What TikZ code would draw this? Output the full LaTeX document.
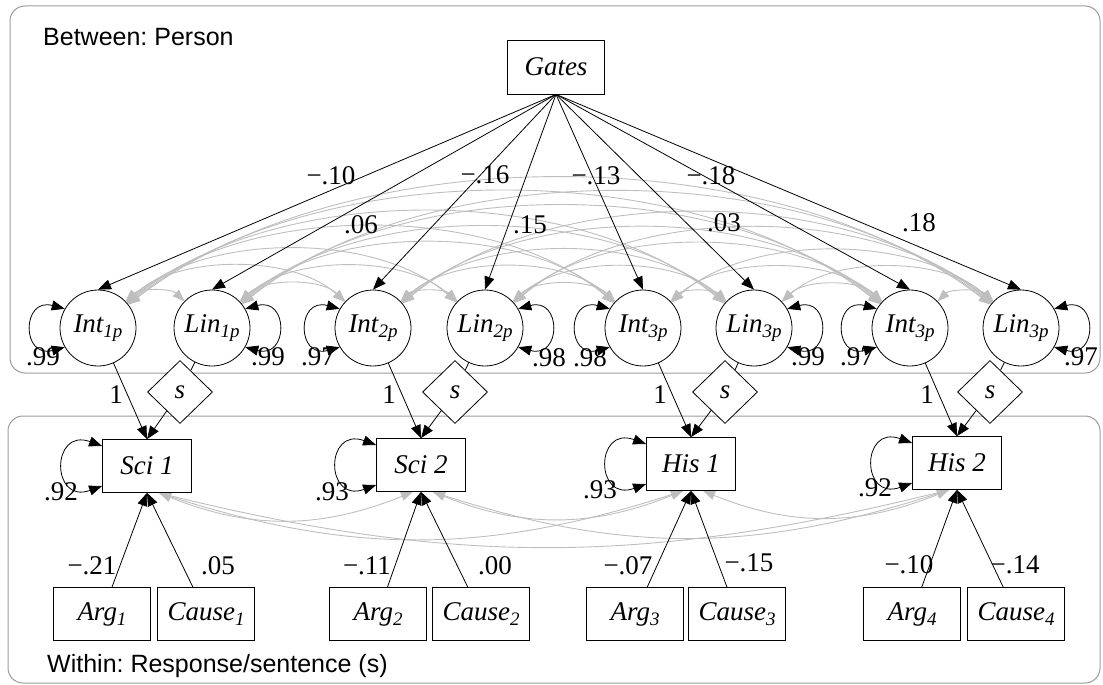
\documentclass[tikz,border=0pt]{standalone}
\usepackage{fontspec}
\setmainfont{Liberation Serif}
\setsansfont{Liberation Sans}
\usetikzlibrary{shapes.geometric,arrows.meta}
\pgfdeclarelayer{background}
\pgfsetlayers{background,main}
\definecolor{covgray}{RGB}{190,190,190}
\definecolor{panelgray}{RGB}{155,155,155}
\frenchspacing
\newcommand{\nfont}{\fontsize{27}{31}\selectfont}
\newcommand{\mysb}[1]{\raisebox{-5pt}{\fontsize{19}{19}\selectfont #1}}
\begin{document}
\begin{tikzpicture}[x=1pt,y=1pt,
  lat/.style={circle, draw, line width=0.8pt, fill=white, minimum size=76pt, inner sep=0pt, font=\nfont\itshape},
  obs/.style={rectangle, draw, line width=0.8pt, fill=white, minimum width=89pt, minimum height=53pt, inner sep=0pt, font=\nfont\itshape},
  pred/.style={obs, minimum width=97pt},
  dia/.style={diamond, draw, line width=0.8pt, fill=white, minimum width=65pt, minimum height=63pt, inner sep=0pt, font=\nfont\itshape},
  coef/.style={font=\nfont, inner sep=0pt},
  reg/.style={draw, line width=0.8pt, -{Triangle[length=13pt,width=10pt]}},
  plainline/.style={draw, line width=0.8pt},
  cov/.style={draw=covgray, line width=0.9pt, {Triangle[length=12pt,width=9pt]}-{Triangle[length=12pt,width=9pt]}},
  selfloop/.style={draw, line width=0.8pt, {Triangle[length=13pt,width=10pt]}-{Triangle[length=13pt,width=10pt]}},
  panel/.style={draw=panelgray, line width=1pt, rounded corners=15pt},
  paneltext/.style={anchor=base west, inner sep=0pt, font=\sffamily\fontsize{25}{28}\selectfont\frenchspacing}
]
\useasboundingbox (0,0) rectangle (1103,-685);
\begin{pgfonlayer}{background}
  \draw[panel] (10,-6) rectangle (1100,-373);
  \draw[panel] (8,-416) rectangle (1100,-683);
\end{pgfonlayer}
\node[paneltext] (tb) at (43,-46) {Between: Person};
\node[paneltext] (tw) at (47,-672) {Within: Response/sentence (s)};

% Gates
\node[obs, minimum width=97pt, minimum height=54pt] (G) at (556,-67) {Gates};

% latent factors
\node[lat] (I1) at (98,-328) {Int\mysb{1p}};
\node[lat] (L1) at (212,-328) {Lin\mysb{1p}};
\node[lat] (I2) at (373,-328) {Int\mysb{2p}};
\node[lat] (L2) at (485,-328) {Lin\mysb{2p}};
\node[lat] (I3) at (643,-328) {Int\mysb{3p}};
\node[lat] (L3) at (754,-328) {Lin\mysb{3p}};
\node[lat] (I4) at (910,-328) {Int\mysb{3p}};
\node[lat] (L4) at (1021,-328) {Lin\mysb{3p}};

% diamonds
\node[dia] (D1) at (180,-392) {s};
\node[dia] (D2) at (455,-392) {s};
\node[dia] (D3) at (725,-392) {s};
\node[dia] (D4) at (990,-392) {s};

% outcomes
\node[obs] (S1) at (147,-466) {Sci 1};
\node[obs] (S2) at (421,-465) {Sci 2};
\node[obs] (H1) at (691,-464) {His 1};
\node[obs] (H2) at (957,-463) {His 2};

% predictors
\node[pred] (A1) at (102,-614) {Arg\mysb{1}};
\node[pred] (C1) at (206,-614) {Cause\mysb{1}};
\node[pred] (A2) at (378,-614) {Arg\mysb{2}};
\node[pred] (C2) at (481,-614) {Cause\mysb{2}};
\node[pred] (A3) at (635,-614) {Arg\mysb{3}};
\node[pred] (C3) at (737,-614) {Cause\mysb{3}};
\node[pred] (A4) at (912,-614) {Arg\mysb{4}};
\node[pred] (C4) at (1016,-614) {Cause\mysb{4}};

% covariances among latent factors
\def\latlist{I1/98,L1/212,I2/373,L2/485,I3/643,L3/754,I4/910,L4/1021}
\begin{pgfonlayer}{background}
\foreach \a/\xa [count=\i] in \latlist {
  \foreach \b/\xb [count=\j] in \latlist {
    \ifnum\j>\i
      \pgfmathsetmacro\ang{45-0.008*(\xb-\xa)}
      \draw[cov] (\a) to[bend left=\ang,looseness=0.82] (\b);
    \fi
  }
}
\def\obslist{S1/147,S2/421,H1/691,H2/957}
\foreach \a/\xa [count=\i] in \obslist {
  \foreach \b/\xb [count=\j] in \obslist {
    \ifnum\j>\i
      \pgfmathsetmacro\ango{-(26-0.015*(\xb-\xa))}
      \pgfmathsetmacro\angi{180+26-0.015*(\xb-\xa)}
      \draw[cov] ([xshift=12pt]\a.south) to[out=\ango,in=\angi,looseness=1] ([xshift=-8pt]\b.south);
    \fi
  }
}
\end{pgfonlayer}

% Gates regressions
\foreach \n in {I1,L1,I2,L2,I3,L3,I4,L4}
  \draw[reg] (G.south) -- (\n.north);

% latent -> outcomes
\foreach \ii/\ll/\dd/\ss in {I1/L1/D1/S1,I2/L2/D2/S2,I3/L3/D3/H1,I4/L4/D4/H2}{
  \draw[reg] (\ii) -- (\ss.north);
  \draw[plainline] (\ll) -- (\dd);
  \draw[reg] (\dd) -- (\ss.north);
}

% predictors -> outcomes
\foreach \aa/\cc/\ss in {A1/C1/S1,A2/C2/S2,A3/C3/H1,A4/C4/H2}{
  \draw[reg] (\aa) -- (\ss.south);
  \draw[reg] (\cc) -- (\ss.south);
}

% self loops latent
\foreach \n in {I1,I2,I3,I4}
  \draw[selfloop] (\n.150) to[out=165,in=195,looseness=3] (\n.210);
\foreach \n in {L1,L2,L3,L4}
  \draw[selfloop] (\n.30) to[out=15,in=-15,looseness=3] (\n.-30);
% self loops outcomes
\foreach \n in {S1,S2,H1,H2}
  \draw[selfloop] ([yshift=20pt]\n.west) to[out=160,in=200,looseness=3.5] ([yshift=-20pt]\n.west);

% coefficient labels: Gates
\node[coef] (g1) at (331,-176) {−.10};
\node[coef] (g2) at (361,-225) {.06};
\node[coef] (g3) at (485,-175) {−.16};
\node[coef] (g4) at (530,-225) {.15};
\node[coef] (g5) at (596,-176) {−.13};
\node[coef] (g6) at (724,-223) {.03};
\node[coef] (g7) at (711,-176) {−.18};
\node[coef] (g8) at (919,-223) {.18};

% residual variances latent
\node[coef] (v1) at (43,-357) {.99};
\node[coef] (v2) at (268,-357) {.99};
\node[coef] (v3) at (318,-357) {.97};
\node[coef] (v4) at (549,-358) {.98};
\node[coef] (v5) at (590,-358) {.98};
\node[coef] (v6) at (808,-357) {.99};
\node[coef] (v7) at (857,-357) {.97};
\node[coef] (v8) at (1081,-357) {.97};

% loadings
\node[coef] (o1) at (116,-395) {1};
\node[coef] (o2) at (389,-395) {1};
\node[coef] (o3) at (660,-395) {1};
\node[coef] (o4) at (927,-395) {1};

% residual variances outcomes
\node[coef] (r1) at (61,-492) {.92};
\node[coef] (r2) at (332,-492) {.93};
\node[coef] (r3) at (600,-490) {.93};
\node[coef] (r4) at (875,-488) {.92};

% predictor coefficients
\node[coef] (p1) at (92,-566) {−.21};
\node[coef] (p2) at (218,-566) {.05};
\node[coef] (p3) at (367,-566) {−.11};
\node[coef] (p4) at (495,-566) {.00};
\node[coef] (p5) at (628,-566) {−.07};
\node[coef] (p6) at (749,-563) {−.15};
\node[coef] (p7) at (909,-565) {−.10};
\node[coef] (p8) at (1015,-565) {−.14};
\end{tikzpicture}
\end{document}
